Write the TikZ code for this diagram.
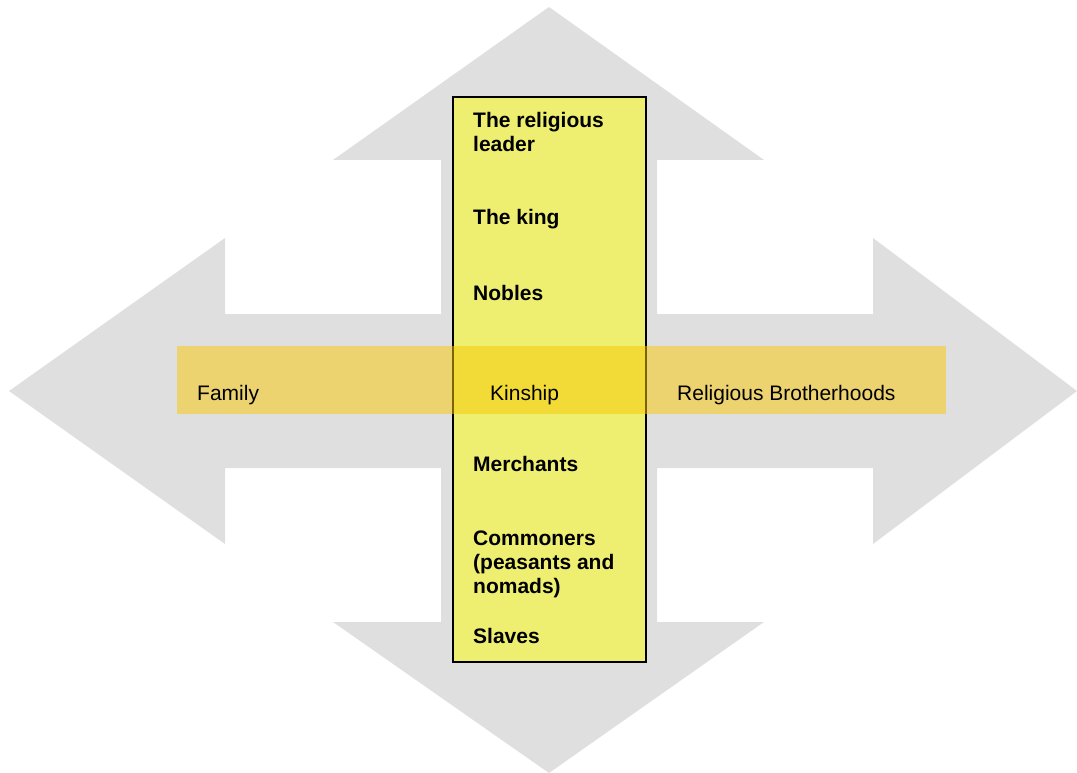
\documentclass[tikz,border=0pt]{standalone}
\usepackage{fontspec}
\setmainfont{Liberation Sans}
\definecolor{arrowgray}{RGB}{223,223,223}
\definecolor{ladderyellow}{RGB}{238,238,112}
\definecolor{bandgold}{RGB}{249,201,0}
\begin{document}
\begin{tikzpicture}[x=1pt,y=-1pt,
  rank/.style={anchor=base west,inner sep=0pt,align=left,font=\fontsize{21}{24}\selectfont\bfseries},
  group/.style={anchor=base west,inner sep=0pt,font=\fontsize{21}{24}\selectfont}]
\useasboundingbox (0,0) rectangle (1077,773);
% four-way arrow
\fill[arrowgray] (549,7) -- (764,160) -- (657,160) -- (657,314) -- (873,314) -- (873,238)
  -- (1077,391) -- (873,544) -- (873,468) -- (657,468) -- (657,622) -- (764,622)
  -- (549,773) -- (333,622) -- (441,622) -- (441,468) -- (225,468) -- (225,544)
  -- (9,391) -- (225,238) -- (225,314) -- (441,314) -- (441,160) -- (333,160) -- cycle;
% vertical ladder
\node[draw=black,line width=1.5pt,fill=ladderyellow,minimum width=193pt,minimum height=565pt,inner sep=0pt]
  (ladder) at (549.5,379.5) {};
% horizontal band
\node[fill=bandgold,fill opacity=0.5,minimum width=769pt,minimum height=68pt,inner sep=0pt]
  (band) at (561.5,380) {};
% ranks (base anchor = baseline of last line)
\node[rank] (leader) at (473,152) {The religious\\leader};
\node[rank] (king) at (473,225) {The king};
\node[rank] (nobles) at (473,300) {Nobles};
\node[rank] (merchants) at (473,471) {Merchants};
\node[rank] (commoners) at (473,593) {Commoners\\(peasants and\\nomads)};
\node[rank] (slaves) at (473,643) {Slaves};
% groups
\node[group] (family) at (197,400) {Family};
\node[group] (kinship) at (490,400) {Kinship};
\node[group] (brother) at (677,400) {Religious Brotherhoods};
\end{tikzpicture}
\end{document}
